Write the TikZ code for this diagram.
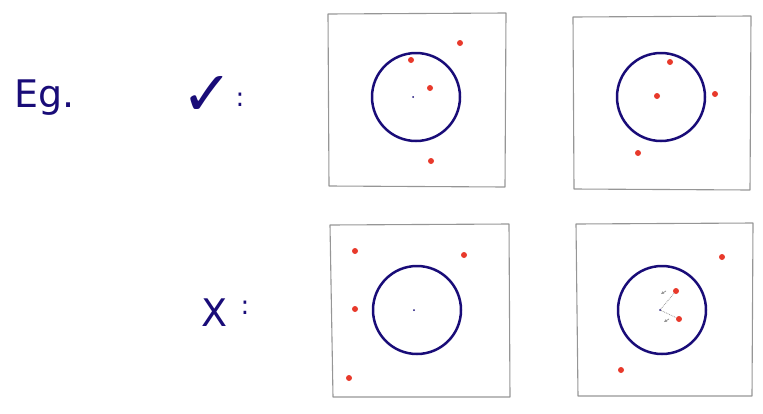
\documentclass[tikz,border=0pt]{standalone}
\usepackage{fontspec}
\setmainfont{DejaVu Sans}
\usetikzlibrary{arrows.meta}
\definecolor{navy}{RGB}{25,12,120}
\definecolor{dotred}{RGB}{232,57,43}
\definecolor{boxgray}{RGB}{150,150,150}
\begin{document}
\begin{tikzpicture}[x=1pt,y=-1pt,
  frame/.style={draw=boxgray,line width=1.1pt,line join=round},
  ring/.style={circle,draw=navy,line width=2.5pt,minimum size=88pt,inner sep=0pt},
  pt/.style={circle,fill=dotred,inner sep=0pt,minimum size=6pt},
  ctr/.style={circle,fill=navy,inner sep=0pt,minimum size=2pt},
  lab/.style={text=navy,inner sep=0pt,font=\fontsize{38}{38}\selectfont},
  ptr/.style={draw=boxgray,densely dotted,line width=0.8pt},
  tip/.style={draw=boxgray,line width=0.8pt,-{Stealth[length=3pt,width=3pt]}}]
\useasboundingbox (0,0) rectangle (763,413);
% labels
\node[lab,anchor=west] (eg) at (14,98) {Eg.};
\node[text=navy,inner sep=0pt,font=\fontsize{62}{62}\selectfont] (ok) at (207,96) {✓};
\node[text=navy,inner sep=0pt,font=\fontsize{26}{26}\selectfont] (okc) at (240,100) {:};
\node[lab,anchor=west] (no) at (201,313) {X};
\node[text=navy,inner sep=0pt,font=\fontsize{26}{26}\selectfont] (noc) at (245,308) {:};
% frames
\draw[frame] (328,14) -- (506,13) -- (505,187) -- (329,186) -- cycle;
\draw[frame] (573,17) -- (751,16) -- (750,190) -- (574,189) -- cycle;
\draw[frame] (330,225) -- (509,224) -- (510,397) -- (333,397) -- cycle;
\draw[frame] (576,224) -- (753,223) -- (752,396) -- (578,396) -- cycle;
% panel 1
\node[ring] (c1) at (416,97) {};
\node[ctr] (m1) at (413,97) {};
\node[pt] (a1) at (460,43) {};
\node[pt] (a2) at (411,60) {};
\node[pt] (a3) at (430,88) {};
\node[pt] (a4) at (431,161) {};
% panel 2
\node[ring] (c2) at (661,97) {};
\node[pt] (b1) at (670,62) {};
\node[pt] (b2) at (657,96) {};
\node[pt] (b3) at (715,94) {};
\node[pt] (b4) at (638,153) {};
% panel 3
\node[ring] (c3) at (417,310) {};
\node[ctr] (m3) at (414,310) {};
\node[pt] (d1) at (355,251) {};
\node[pt] (d2) at (464,255) {};
\node[pt] (d3) at (355,309) {};
\node[pt] (d4) at (349,378) {};
% panel 4
\node[ring] (c4) at (662,310) {};
\node[ctr] (m4) at (660,310) {};
\node[pt] (e1) at (722,257) {};
\node[pt] (e2) at (676,291) {};
\node[pt] (e3) at (679,319) {};
\node[pt] (e4) at (621,370) {};
\draw[ptr] (m4) -- (e2);
\draw[ptr] (m4) -- (e3);
\coordinate (t1s) at (666,291);
\coordinate (t1e) at (661,294);
\coordinate (t2s) at (669,319);
\coordinate (t2e) at (664,322);
\draw[tip] (t1s) -- (t1e);
\draw[tip] (t2s) -- (t2e);
\end{tikzpicture}
\end{document}
